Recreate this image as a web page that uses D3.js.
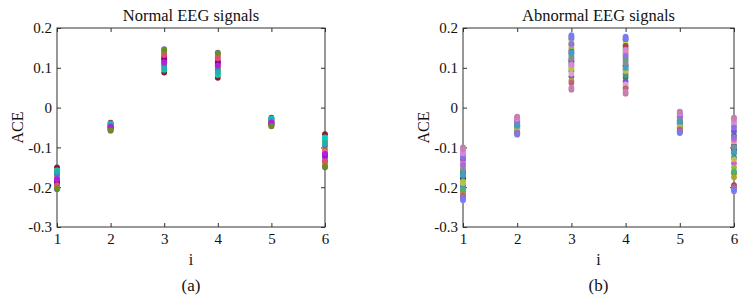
<!DOCTYPE html>
<html><head><meta charset="utf-8">
<script src="https://cdn.jsdelivr.net/npm/d3@7"></script>
<style>body{margin:0;background:#fff}svg{display:block}svg text{font-family:"Liberation Serif","Times New Roman",serif !important;fill:#111}</style>
</head><body><svg id="c" width="752" height="299"></svg>
<script>
const xTicks = [1,2,3,4,5,6];
const yTicks = [-0.3,-0.2,-0.1,0,0.1,0.2];
const yTickLabels = ["-0.3","-0.2","-0.1","0","0.1","0.2"];

const normalSignals = [
 [-0.150,-0.038,0.088,0.075,-0.025,-0.067],
 [-0.162,-0.042,0.100,0.085,-0.028,-0.080],
 [-0.205,-0.058,0.147,0.138,-0.047,-0.150],
 [-0.170,-0.045,0.120,0.110,-0.035,-0.115],
 [-0.178,-0.050,0.112,0.100,-0.040,-0.102],
 [-0.196,-0.055,0.136,0.128,-0.044,-0.138],
 [-0.185,-0.048,0.125,0.115,-0.038,-0.120],
 [-0.165,-0.043,0.105,0.092,-0.030,-0.085],
 [-0.190,-0.052,0.140,0.132,-0.042,-0.132],
 [-0.175,-0.047,0.116,0.104,-0.036,-0.108],
 [-0.158,-0.040,0.095,0.082,-0.027,-0.075],
 [-0.182,-0.049,0.128,0.118,-0.039,-0.125],
 [-0.200,-0.056,0.144,0.135,-0.045,-0.145],
 [-0.172,-0.046,0.118,0.108,-0.034,-0.112],
 [-0.168,-0.044,0.108,0.096,-0.032,-0.095],
 [-0.188,-0.051,0.122,0.113,-0.041,-0.118],
 [-0.160,-0.041,0.098,0.088,-0.029,-0.090],
 [-0.195,-0.054,0.132,0.124,-0.043,-0.135],
 [-0.180,-0.048,0.114,0.106,-0.037,-0.116],
 [-0.203,-0.057,0.145,0.137,-0.046,-0.148]
];
const normalColors = ["#8b1c24","#2ee08a","#6a5acd","#c71585","#e39a4f","#ff4f7b","#a020f0","#3cb371","#708090","#d2691e","#00ced1","#9932cc","#b8960b","#ff69b4","#4682b4","#8b008b","#20b2aa","#e0506a","#b020e0","#6b8e23"];

const abnormalSignals = [
 [-0.233,-0.068,0.182,0.178,-0.064,-0.210],
 [-0.100,-0.023,0.045,0.035,-0.010,-0.025],
 [-0.120,-0.030,0.172,0.170,-0.020,-0.045],
 [-0.135,-0.033,0.165,0.160,-0.015,-0.055],
 [-0.210,-0.062,0.158,0.148,-0.058,-0.165],
 [-0.200,-0.060,0.145,0.135,-0.050,-0.140],
 [-0.195,-0.052,0.135,0.125,-0.040,-0.125],
 [-0.178,-0.047,0.118,0.105,-0.038,-0.105],
 [-0.165,-0.045,0.112,0.095,-0.042,-0.095],
 [-0.150,-0.038,0.100,0.088,-0.028,-0.085],
 [-0.160,-0.042,0.092,0.075,-0.033,-0.070],
 [-0.130,-0.035,0.078,0.065,-0.025,-0.060],
 [-0.215,-0.058,0.068,0.052,-0.052,-0.175],
 [-0.140,-0.036,0.125,0.115,-0.030,-0.080],
 [-0.185,-0.050,0.150,0.140,-0.046,-0.150],
 [-0.172,-0.048,0.105,0.082,-0.035,-0.115],
 [-0.225,-0.065,0.140,0.155,-0.060,-0.195],
 [-0.110,-0.026,0.085,0.058,-0.012,-0.040],
 [-0.205,-0.055,0.130,0.120,-0.048,-0.160],
 [-0.145,-0.040,0.160,0.130,-0.022,-0.075],
 [-0.190,-0.053,0.098,0.092,-0.045,-0.130],
 [-0.155,-0.044,0.122,0.110,-0.032,-0.100],
 [-0.125,-0.031,0.175,0.172,-0.018,-0.050],
 [-0.220,-0.063,0.062,0.048,-0.055,-0.200],
 [-0.168,-0.046,0.138,0.100,-0.036,-0.110],
 [-0.115,-0.028,0.108,0.145,-0.014,-0.035],
 [-0.228,-0.066,0.178,0.175,-0.062,-0.205],
 [-0.105,-0.024,0.050,0.040,-0.011,-0.028]
];
const abnormalColors = ["#7f7fef","#c07aa8","#7a9e9e","#a6e04a","#6b8e23","#e04fe0","#1e8fd0","#0b1440","#2f6f7f","#d8a0b4","#2e8b57","#7b50e0","#a8a830","#f060c8","#90c040","#5a8a8a","#b04050","#e0a0d0","#50b070","#9a70e0","#c0c040","#8a8a9a","#8870e8","#c06080","#40a0c0","#e080e0","#7a7af0","#c880b0"];

const panels = [
 {title:"Normal EEG signals", label:"(a)", data:normalSignals, colors:normalColors, x0:57, x1:325},
 {title:"Abnormal EEG signals", label:"(b)", data:abnormalSignals, colors:abnormalColors, x0:463, x1:734}
];
const y0 = 28, y1 = 227;
const svg = d3.select("#c");
const axisColor = "#333";
const serif = "'Liberation Serif','Times New Roman',serif";

panels.forEach(p => {
  const x = d3.scaleLinear().domain([1,6]).range([p.x0,p.x1]);
  const y = d3.scaleLinear().domain([-0.3,0.2]).range([y1,y0]);
  const g = svg.append("g");
  g.append("rect").attr("x",p.x0).attr("y",y0).attr("width",p.x1-p.x0).attr("height",y1-y0)
   .attr("fill","none").attr("stroke",axisColor).attr("stroke-width",1);
  const tl = 4;
  const fmt = d => yTickLabels[yTicks.indexOf(d)];
  const axL = g.append("g").attr("transform",`translate(${p.x0},0)`)
    .call(d3.axisLeft(y).tickValues(yTicks).tickSize(-tl).tickPadding(5).tickFormat(fmt));
  const axR = g.append("g").attr("transform",`translate(${p.x1},0)`)
    .call(d3.axisRight(y).tickValues(yTicks).tickSize(-tl).tickFormat(""));
  const axB = g.append("g").attr("transform",`translate(0,${y1})`)
    .call(d3.axisBottom(x).tickValues(xTicks).tickSize(-tl).tickPadding(6).tickFormat(d3.format("d")));
  const axT = g.append("g").attr("transform",`translate(0,${y0})`)
    .call(d3.axisTop(x).tickValues(xTicks).tickSize(-tl).tickFormat(""));
  [axL,axR,axB,axT].forEach(a => {
    a.attr("font-family",null).attr("font-size",null);
    a.select(".domain").remove();
    a.selectAll("line").attr("stroke",axisColor);
    a.selectAll("text").style("font-size","15px").style("fill","#111").style("font-family",serif);
  });
  p.data.forEach((row,si) => {
    g.append("g").selectAll("circle").data(row).join("circle")
     .attr("cx",(d,i)=>x(xTicks[i])).attr("cy",d=>y(d)).attr("r",2.9)
     .attr("fill",p.colors[si % p.colors.length]);
  });
  const cx = (p.x0+p.x1)/2;
  const txt = (xx,yy,s,t) => g.append("text").attr("x",xx).attr("y",yy).attr("text-anchor","middle")
     .style("font-size",s+"px").style("font-family",serif).text(t);
  txt(cx,21,16.5,p.title);
  txt(cx,265,16,"i");
  txt(cx,291,17,p.label);
  g.append("text").attr("transform",`translate(${p.x0-34},${(y0+y1)/2}) rotate(-90)`)
   .attr("text-anchor","middle").style("font-size","16px").style("font-family",serif).text("ACE");
});
</script></body></html>
